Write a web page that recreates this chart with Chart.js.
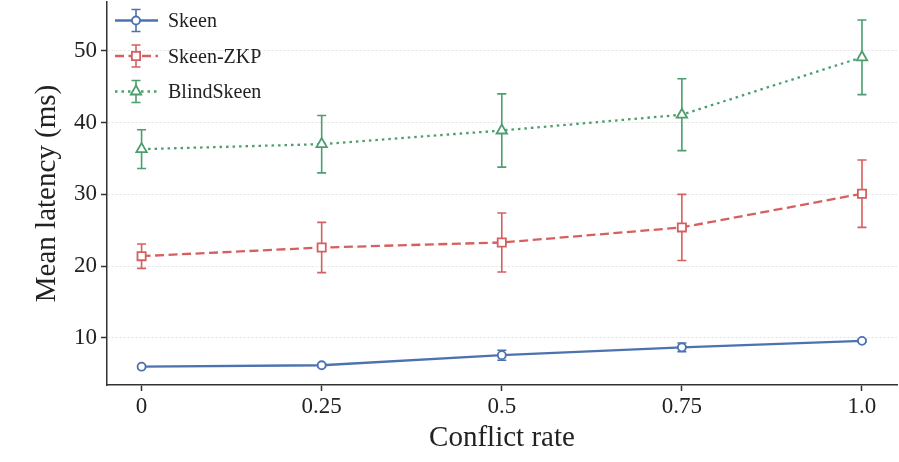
<!DOCTYPE html>
<html>
<head>
<meta charset="utf-8">
<script src="https://cdn.jsdelivr.net/npm/chart.js@4"></script>
<style>
  body { margin: 0; background: #fff; }
  #wrap { width: 899px; height: 462px; }
</style>
</head>
<body>
<div id="wrap"><canvas id="latencyChart"></canvas></div>
<script>
// data
const conflictRates = [0, 0.25, 0.5, 0.75, 1.0];
const xTickLabels = ["0", "0.25", "0.5", "0.75", "1.0"];
const yTickValues = [10, 20, 30, 40, 50];

const skeenMean = [6.0, 6.2, 7.6, 8.7, 9.6];
const skeenErr = [0.2, 0.2, 0.7, 0.6, 0.2];
const zkpMean = [21.4, 22.6, 23.3, 25.4, 30.1];
const zkpErr = [1.7, 3.5, 4.1, 4.6, 4.7];
const blindMean = [36.3, 37.0, 38.9, 41.1, 49.1];
const blindErr = [2.7, 4.0, 5.1, 5.0, 5.2];

const seriesNames = ["Skeen", "Skeen-ZKP", "BlindSkeen"];
const BLUE = "#4c72b0";
const RED = "#d65f5f";
const GREEN = "#4d9e6e";
const FONT = "'Liberation Serif', 'Times New Roman', serif";

function toPoints(values) {
    return conflictRates.map((x, i) => ({ x: x, y: values[i] }));
}

const series = [
    { name: seriesNames[0], mean: skeenMean, err: skeenErr, color: BLUE, dash: [], style: "circle", radius: 4 },
    { name: seriesNames[1], mean: zkpMean, err: zkpErr, color: RED, dash: [9, 4.5], style: "rect", radius: 5.8 },
    { name: seriesNames[2], mean: blindMean, err: blindErr, color: GREEN, dash: [2.5, 4], style: "triangle", radius: 6 }
];

function drawErrorBar(ctx, x, yTop, yBot, color) {
    ctx.save();
    ctx.strokeStyle = color;
    ctx.lineWidth = 1.6;
    ctx.setLineDash([]);
    ctx.beginPath();
    ctx.moveTo(x, yTop);
    ctx.lineTo(x, yBot);
    ctx.moveTo(x - 4.5, yTop);
    ctx.lineTo(x + 4.5, yTop);
    ctx.moveTo(x - 4.5, yBot);
    ctx.lineTo(x + 4.5, yBot);
    ctx.stroke();
    ctx.restore();
}

// error bars go under the line markers
const errorBars = {
    id: "errorBars",
    beforeDatasetsDraw(chart) {
        const ctx = chart.ctx;
        const xs = chart.scales.x;
        const ys = chart.scales.y;
        series.forEach(s => {
            conflictRates.forEach((r, i) => {
                const px = xs.getPixelForValue(r);
                drawErrorBar(ctx, px,
                    ys.getPixelForValue(s.mean[i] + s.err[i]),
                    ys.getPixelForValue(s.mean[i] - s.err[i]),
                    s.color);
            });
        });
    }
};

// matplotlib-like legend in the top left corner
const sampleLegend = {
    id: "sampleLegend",
    afterDraw(chart) {
        const ctx = chart.ctx;
        const baselines = [27, 62.5, 98];
        series.forEach((s, i) => {
            const cy = baselines[i] - 6.5;
            ctx.save();
            ctx.strokeStyle = s.color;
            ctx.lineWidth = 2.3;
            ctx.setLineDash(s.dash);
            ctx.beginPath();
            ctx.moveTo(115, cy);
            ctx.lineTo(158, cy);
            ctx.stroke();
            ctx.restore();

            drawErrorBar(ctx, 136, cy - 11, cy + 11, s.color);

            ctx.save();
            ctx.fillStyle = "#fff";
            ctx.strokeStyle = s.color;
            ctx.lineWidth = 1.8;
            ctx.setLineDash([]);
            Chart.helpers.drawPoint(ctx, { pointStyle: s.style, radius: s.radius, rotation: 0, borderWidth: 1.8 }, 136, cy);
            ctx.restore();

            ctx.save();
            ctx.fillStyle = "#222";
            ctx.font = "20px " + FONT;
            ctx.textBaseline = "alphabetic";
            ctx.textAlign = "left";
            ctx.fillText(s.name, 168, baselines[i]);
            ctx.restore();
        });
    }
};

function noLabelPadding(s) {
    s.paddingTop = 0;
    s.paddingBottom = 0;
    s.paddingLeft = 0;
    s.paddingRight = 0;
}

const ctx = document.getElementById("latencyChart").getContext("2d");

new Chart(ctx, {
    type: "line",
    data: {
        datasets: series.map(s => ({
            label: s.name,
            data: toPoints(s.mean),
            borderColor: s.color,
            borderWidth: 2.3,
            borderDash: s.dash,
            fill: false,
            tension: 0,
            pointStyle: s.style,
            pointRadius: s.radius,
            pointBorderWidth: 1.8,
            pointBackgroundColor: "#fff",
            pointBorderColor: s.color
        }))
    },
    options: {
        responsive: true,
        maintainAspectRatio: false,
        animation: false,
        devicePixelRatio: 1,
        layout: { autoPadding: false, padding: { left: 0, right: 2, top: 2, bottom: 0 } },
        plugins: {
            legend: { display: false },
            tooltip: { enabled: false }
        },
        scales: {
            x: {
                type: "linear",
                min: -0.048,
                max: 1.0486,
                afterBuildTicks: s => { s.ticks = conflictRates.map(v => ({ value: v })); },
                afterFit: s => { s.height = 77; noLabelPadding(s); },
                ticks: {
                    callback: (v, i) => xTickLabels[i],
                    font: { family: FONT, size: 23 },
                    color: "#222",
                    padding: 2,
                    maxRotation: 0,
                    autoSkip: false
                },
                grid: {
                    drawOnChartArea: false,
                    drawTicks: true,
                    tickLength: 6,
                    tickColor: "#333",
                    tickWidth: 1.5
                },
                border: { color: "#333", width: 1.5 },
                title: {
                    display: true,
                    text: "Conflict rate",
                    font: { family: FONT, size: 29 },
                    color: "#222",
                    padding: { top: 0, bottom: 6 }
                }
            },
            y: {
                type: "linear",
                min: 3.45,
                max: 56.8,
                afterBuildTicks: s => { s.ticks = yTickValues.map(v => ({ value: v })); },
                afterFit: s => { s.width = 107; noLabelPadding(s); },
                ticks: {
                    callback: v => String(v),
                    font: { family: FONT, size: 23 },
                    color: "#222",
                    padding: 4
                },
                grid: {
                    color: "#e3e3e3",
                    lineWidth: 1,
                    drawTicks: true,
                    tickLength: 6,
                    tickColor: "#333",
                    tickWidth: 1.5,
                    tickBorderDash: []
                },
                border: { color: "#333", width: 1.5, dash: [2, 2] },
                title: {
                    display: true,
                    text: "Mean latency (ms)",
                    font: { family: FONT, size: 29 },
                    color: "#222",
                    padding: { top: 30, bottom: 0 }
                }
            }
        }
    },
    plugins: [errorBars, sampleLegend]
});
</script>
</body>
</html>
